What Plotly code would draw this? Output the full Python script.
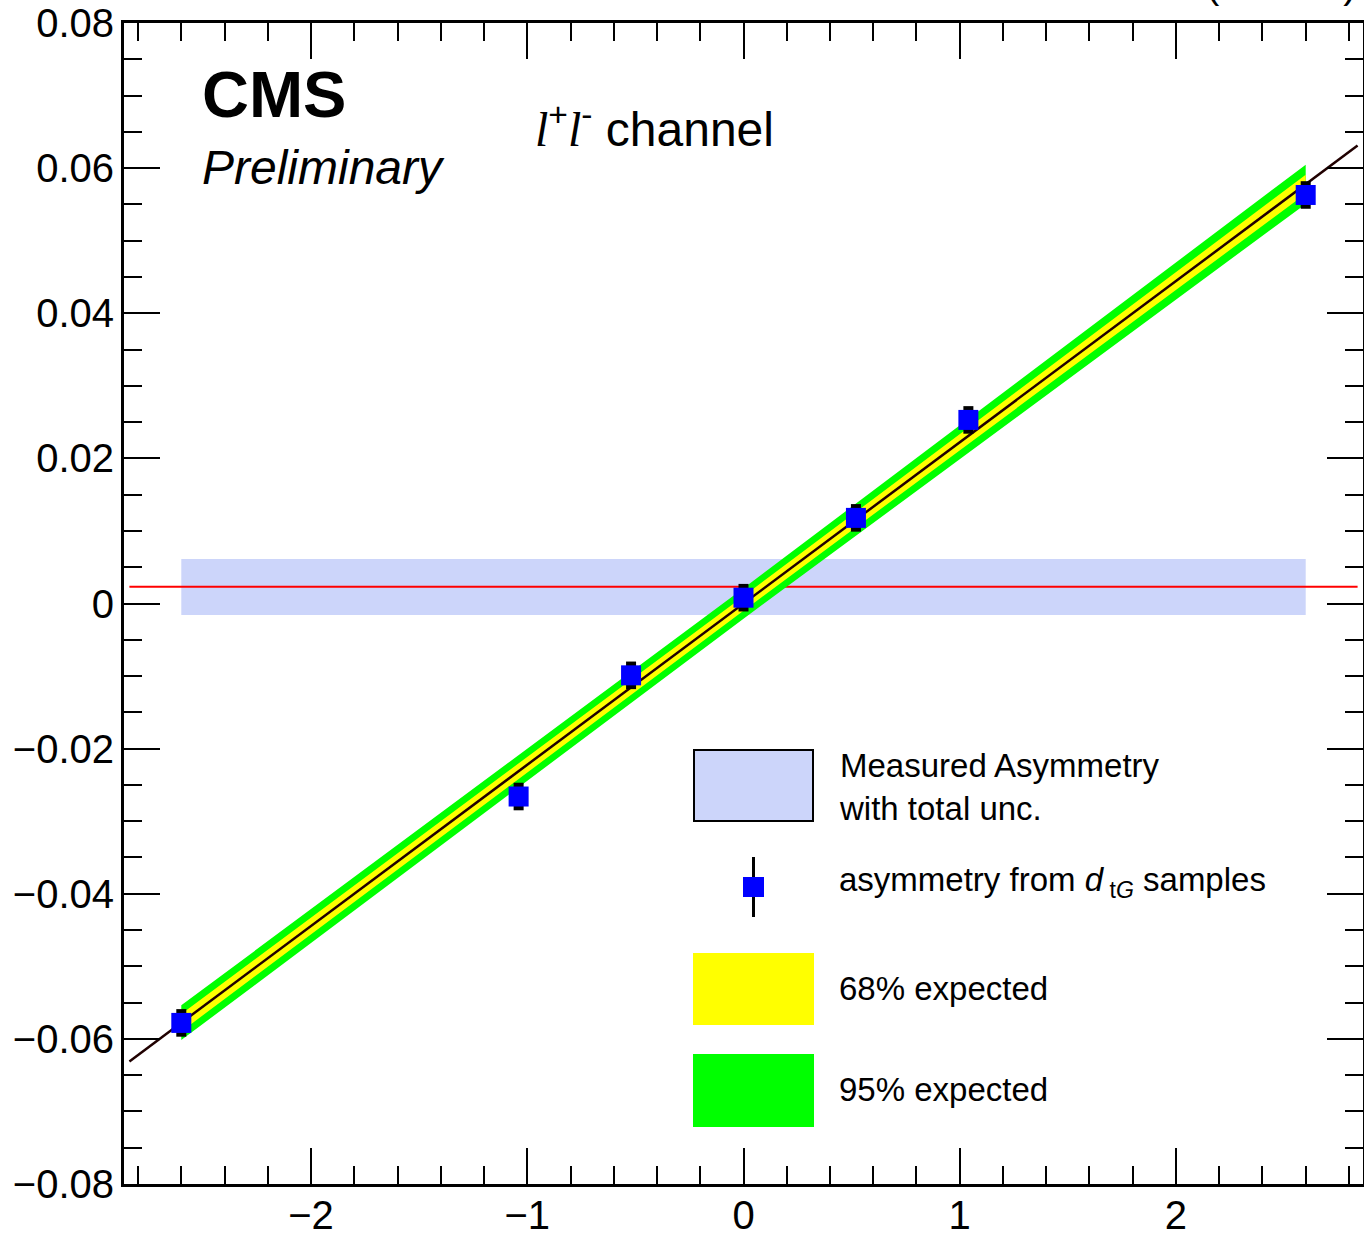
import plotly.graph_objects as go

# ---------------- data ----------------
d_tg = [-2.6, -1.04, -0.52, 0.0, 0.52, 1.04, 2.6]
asym = [-0.0578, -0.0266, -0.0099, 0.0008, 0.0118, 0.0253, 0.0563]
asym_err = [0.0019, 0.0019, 0.0019, 0.0019, 0.0019, 0.0019, 0.0019]

fit_x = [-2.84, 2.84]
fit_slope = 0.02222
fit_intercept = 0.0

band_x = [-2.6, 0.0, 2.6]
band68 = [0.0012, 0.0010, 0.0013]
band95 = [0.0024, 0.0021, 0.0027]

meas_x = [-2.6, 2.6]
meas_center = 0.00232
meas_lo = -0.00158
meas_hi = 0.00613
meas_line_x = [-2.84, 2.84]

x_ticks = [-2, -1, 0, 1, 2]
x_ticklabels = ["\u22122", "\u22121", "0", "1", "2"]
y_ticks = [-0.08, -0.06, -0.04, -0.02, 0, 0.02, 0.04, 0.06, 0.08]
y_ticklabels = ["\u22120.08", "\u22120.06", "\u22120.04", "\u22120.02", "0", "0.02", "0.04", "0.06", "0.08"]

legend_labels = ["Measured Asymmetry<br>with total unc.",
                 "asymmetry from <i>d</i><sub> t<i>G</i></sub> samples",
                 "68% expected", "95% expected"]

FONT = "Liberation Sans, Arial, sans-serif"

fig = go.Figure()

# measured asymmetry band
fig.add_trace(go.Scatter(
    x=[meas_x[0], meas_x[1], meas_x[1], meas_x[0]],
    y=[meas_lo, meas_lo, meas_hi, meas_hi],
    fill="toself", fillcolor="#ccd5fa", line=dict(width=0),
    mode="lines", hoverinfo="skip", showlegend=False))
fig.add_trace(go.Scatter(
    x=meas_line_x, y=[meas_center, meas_center], mode="lines",
    line=dict(color="#ff0000", width=2), showlegend=False))

def fit(x):
    return fit_intercept + fit_slope * x

# 95% band
up95 = [fit(x) + w for x, w in zip(band_x, band95)]
dn95 = [fit(x) - w for x, w in zip(band_x, band95)]
fig.add_trace(go.Scatter(
    x=band_x + band_x[::-1], y=up95 + dn95[::-1],
    fill="toself", fillcolor="#00ff00", line=dict(width=0),
    mode="lines", hoverinfo="skip", showlegend=False))
up68 = [fit(x) + w for x, w in zip(band_x, band68)]
dn68 = [fit(x) - w for x, w in zip(band_x, band68)]
fig.add_trace(go.Scatter(
    x=band_x + band_x[::-1], y=up68 + dn68[::-1],
    fill="toself", fillcolor="#ffff00", line=dict(width=0),
    mode="lines", hoverinfo="skip", showlegend=False))

# fit line
fig.add_trace(go.Scatter(
    x=fit_x, y=[fit(x) for x in fit_x], mode="lines",
    line=dict(color="#200000", width=2.5), showlegend=False))

# points
fig.add_trace(go.Scatter(
    x=d_tg, y=asym, mode="markers",
    marker=dict(symbol="square", size=20, color="#0000ff", line=dict(width=0)),
    error_y=dict(type="data", array=asym_err, color="black", thickness=10, width=0),
    showlegend=False))

axis_common = dict(
    showgrid=False, zeroline=False, showline=True, linecolor="black", linewidth=3,
    ticks="inside", tickcolor="black", tickwidth=2, ticklen=36, mirror="allticks",
    tickfont=dict(family=FONT, size=40, color="black"),
)
fig.update_xaxes(range=[-2.865, 2.865], tickvals=x_ticks, ticktext=x_ticklabels,
                 minor=dict(dtick=0.2, tick0=0, ticklen=18, tickwidth=2, tickcolor="black", ticks="inside"),
                 ticklabelstandoff=-6, **axis_common)
fig.update_yaxes(range=[-0.08, 0.08], tickvals=y_ticks, ticktext=y_ticklabels,
                 minor=dict(dtick=0.005, tick0=0, ticklen=18, tickwidth=2, tickcolor="black", ticks="inside"),
                 ticklabelstandoff=-1, **axis_common)

W, H = 1364, 1233
L, R, T, B = 124, 1, 23, 49
pw, ph = W - L - R, H - T - B

def px(x):
    return (x - L) / pw

def py(y):
    return (H - B - y) / ph

shapes = []
annots = []

# text labels
annots.append(dict(x=px(200), y=py(94), xref="paper", yref="paper", xanchor="left", yanchor="middle",
                   text="<b>CMS</b>", showarrow=False, font=dict(family=FONT, size=65, color="black")))
annots.append(dict(x=px(200), y=py(167), xref="paper", yref="paper", xanchor="left", yanchor="middle",
                   text="<i>Preliminary</i>", showarrow=False, font=dict(family=FONT, size=48, color="black")))
annots.append(dict(x=px(533), y=py(126), xref="paper", yref="paper", xanchor="left", yanchor="middle",
                   text="<span style='font-family:Liberation Serif'><i>l</i></span><sup>+</sup>"
                        "<span style='font-family:Liberation Serif'><i>l</i></span><sup>-</sup> channel",
                   showarrow=False, font=dict(family=FONT, size=48, color="black")))
annots.append(dict(x=px(1358), y=py(8), xref="paper", yref="paper", xanchor="right", yanchor="bottom",
                   text="(13 TeV)", showarrow=False, font=dict(family=FONT, size=40, color="black")))

# legend
shapes.append(dict(type="rect", xref="paper", yref="paper", x0=px(694), x1=px(813), y0=py(821), y1=py(750),
                   fillcolor="#ccd5fa", line=dict(color="black", width=2)))
shapes.append(dict(type="line", xref="paper", yref="paper", x0=px(753.5), x1=px(753.5), y0=py(917), y1=py(857),
                   line=dict(color="black", width=3)))
shapes.append(dict(type="rect", xref="paper", yref="paper", x0=px(743), x1=px(764), y0=py(897), y1=py(877),
                   fillcolor="#0000ff", line=dict(width=0)))
shapes.append(dict(type="rect", xref="paper", yref="paper", x0=px(693), x1=px(814), y0=py(1025), y1=py(953),
                   fillcolor="#ffff00", line=dict(width=0)))
shapes.append(dict(type="rect", xref="paper", yref="paper", x0=px(693), x1=px(814), y0=py(1127), y1=py(1054),
                   fillcolor="#00ff00", line=dict(width=0)))
leg_y = [787, 882, 988, 1089]
for lab, yy in zip(legend_labels, leg_y):
    annots.append(dict(x=px(837), y=py(yy), xref="paper", yref="paper", xanchor="left", yanchor="middle",
                       align="left", text=lab, showarrow=False,
                       font=dict(family=FONT, size=33, color="black")))

fig.update_layout(
    width=W, height=H, margin=dict(l=L, r=R, t=T, b=B, autoexpand=False),
    paper_bgcolor="white", plot_bgcolor="white",
    shapes=shapes, annotations=annots, showlegend=False,
)

fig.write_html(
    "out.html",
    config={"displayModeBar": False},
    post_script="document.documentElement.style.margin='0';document.documentElement.style.overflow='hidden';"
                "document.body.style.margin='0';document.body.style.padding='0';document.body.style.overflow='hidden';",
)
